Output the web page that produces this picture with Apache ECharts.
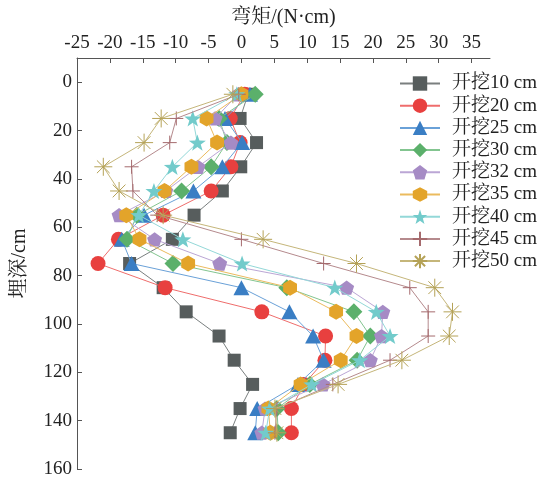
<!DOCTYPE html>
<html>
<head>
<meta charset="utf-8">
<script src="https://cdn.jsdelivr.net/npm/echarts@6/dist/echarts.min.js"></script>
<style>
  html, body { margin: 0; padding: 0; background: #fff; }
  #chart { width: 546px; height: 481px; }
</style>
</head>
<body>
<div id="chart"></div>
<script>
// Depths (cm) at which the bending moment was measured
const depths = [5, 15, 25, 35, 45, 55, 65, 75, 85, 95, 105, 115, 125, 135, 145];

// Bending moment (N·cm) for each excavation stage
const m10 = [1.0, -0.2, 2.3, -0.1, -2.9, -7.2, -10.5, -17.0, -11.9, -8.4, -3.4, -1.1, 1.7, -0.2, -1.7];
const m20 = [0.5, -1.7, -0.2, -1.6, -4.6, -11.9, -18.7, -21.8, -11.6, 3.1, 12.8, 12.7, 9.5, 7.6, 7.6];
const m25 = [1.3, -2.5, 0.1, -2.9, -7.3, -14.8, -18.2, -16.7, 0.0, 7.3, 10.9, 12.5, 8.6, 2.4, 2.1];
const m30 = [2.1, -3.4, -2.2, -4.6, -9.1, -15.9, -17.4, -10.4, 6.9, 17.1, 19.6, 17.6, 10.4, 5.4, 5.6];
const m32 = [-0.5, -4.0, -1.6, -6.6, -11.5, -18.6, -13.2, -3.3, 16.0, 21.5, 21.3, 19.6, 12.4, 3.6, 3.1];
const m35 = [0.0, -5.3, -3.7, -7.6, -11.7, -17.5, -15.5, -8.1, 7.4, 14.4, 17.5, 15.1, 9.0, 4.1, 4.4];
const m40 = [-0.7, -7.4, -6.7, -10.5, -13.3, -15.6, -8.9, 0.1, 14.2, 20.5, 22.6, 18.0, 10.7, 4.3, 3.7];
const m45 = [-0.4, -9.9, -10.9, -16.7, -16.5, -12.8, 0.0, 12.5, 25.6, 28.4, 28.4, 22.6, 13.9, 5.4, 5.1];
const m50 = [-1.3, -12.2, -14.8, -21.0, -18.6, -11.9, 3.3, 17.5, 29.4, 32.1, 31.6, 24.4, 14.7, 5.1, 5.4];

const stageNames = ['开挖10 cm', '开挖20 cm', '开挖25 cm', '开挖30 cm', '开挖32 cm', '开挖35 cm', '开挖40 cm', '开挖45 cm', '开挖50 cm'];

const xTicks = [-25, -20, -15, -10, -5, 0, 5, 10, 15, 20, 25, 30, 35];
const yTicks = [0, 20, 40, 60, 80, 100, 120, 140, 160];

const FONT = "'Liberation Serif', 'Noto Serif CJK SC', 'Noto Sans CJK SC', serif";

// Custom marker outlines
const PENTAGON = 'path://M0,-1 L0.951,-0.309 L0.588,0.809 L-0.588,0.809 L-0.951,-0.309 Z';
const HEXAGON = 'path://M0,-1 L0.866,-0.5 L0.866,0.5 L0,1 L-0.866,0.5 L-0.866,-0.5 Z';
const STAR = 'path://M0,-1 L0.235,-0.324 L0.951,-0.309 L0.38,0.124 L0.588,0.809 L0,0.4 L-0.588,0.809 L-0.38,0.124 L-0.951,-0.309 L-0.235,-0.324 Z';
const PLUS = 'path://M0,5 L10,5 M5,0 L5,10';
const ASTERISK = 'path://M0,5 L10,5 M5,0 L5,10 M1.46,1.46 L8.54,8.54 M8.54,1.46 L1.46,8.54';

const styles = [
  { values: m10, symbol: 'rect',     size: 13, color: '#575d5d', line: '#7a7f7f' },
  { values: m20, symbol: 'circle',   size: 15, color: '#e8403f', line: '#ef6d6c' },
  { values: m25, symbol: 'triangle', size: [16, 15], color: '#3a7ec4', line: '#6aa1d8' },
  { values: m30, symbol: 'diamond',  size: 17, color: '#5bb06b', line: '#83c590' },
  { values: m32, symbol: PENTAGON,   size: 15, color: '#a68bc5', line: '#bba6d5' },
  { values: m35, symbol: HEXAGON,    size: 16, color: '#e3a42a', line: '#ebbb5e' },
  { values: m40, symbol: STAR,       size: 17, color: '#72cbcb', line: '#93d8d8' },
  { values: m45, symbol: PLUS,       size: 14, color: '#a56a6d', line: '#b58a8d', stroke: true },
  { values: m50, symbol: ASTERISK,   size: 18, color: '#b5a257', line: '#c5b67a', stroke: true }
];

const series = styles.map((s, i) => ({
  name: stageNames[i],
  type: 'line',
  data: s.values.map((v, k) => [v, depths[k]]),
  symbol: s.symbol,
  symbolSize: s.size,
  symbolKeepAspect: true,
  showAllSymbol: true,
  lineStyle: { color: s.line, width: 1 },
  itemStyle: s.stroke
    ? { color: s.color, borderColor: s.color, borderWidth: 1 }
    : { color: s.color, borderWidth: 0 },
  emphasis: { disabled: true },
  z: 2 + i
}));

const chart = echarts.init(document.getElementById('chart'), null, { renderer: 'canvas' });

chart.setOption({
  animation: false,
  backgroundColor: '#ffffff',
  textStyle: { fontFamily: FONT },
  grid: { left: 77, top: 58, right: 56, bottom: 12, containLabel: false },
  legend: {
    orient: 'vertical',
    left: 394,
    top: 69,
    itemWidth: 40,
    itemHeight: 18,
    itemGap: 3.2,
    textStyle: { fontFamily: FONT, fontSize: 19, color: '#222', padding: [0, 0, 0, 7] },
    data: stageNames
  },
  xAxis: {
    type: 'value',
    position: 'top',
    min: -25,
    max: 37.8,
    name: '弯矩/(N·cm)',
    nameLocation: 'middle',
    nameGap: 30,
    nameTextStyle: { fontFamily: FONT, fontSize: 20, color: '#222' },
    axisLine: { show: true, onZero: false, lineStyle: { color: '#555', width: 1 } },
    axisTick: { show: true, inside: true, length: 5, customValues: xTicks, lineStyle: { color: '#555' } },
    axisLabel: {
      customValues: xTicks,
      fontFamily: FONT,
      fontSize: 19,
      color: '#222',
      margin: 5,
      formatter: v => (xTicks.indexOf(v) >= 0 ? String(v) : '')
    },
    splitLine: { show: false }
  },
  yAxis: {
    type: 'value',
    inverse: true,
    min: -10,
    max: 160,
    name: '埋深/cm',
    nameLocation: 'middle',
    nameRotate: 90,
    nameGap: 47,
    nameTextStyle: { fontFamily: FONT, fontSize: 20, color: '#222' },
    axisLine: { show: true, onZero: false, lineStyle: { color: '#555', width: 1 } },
    axisTick: { show: true, inside: true, length: 5, customValues: yTicks, lineStyle: { color: '#555' } },
    axisLabel: {
      customValues: yTicks,
      fontFamily: FONT,
      fontSize: 19,
      color: '#222',
      margin: 5,
      formatter: v => (yTicks.indexOf(v) >= 0 ? String(v) : '')
    },
    splitLine: { show: false }
  },
  series: series
});
</script>
</body>
</html>
